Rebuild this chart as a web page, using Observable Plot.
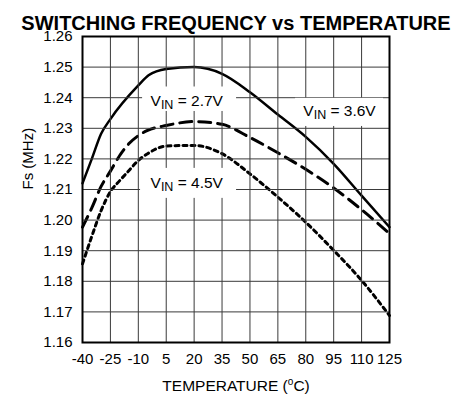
<!DOCTYPE html>
<html><head><meta charset="utf-8">
<script src="https://cdn.jsdelivr.net/npm/d3@7"></script>
<script src="https://cdn.jsdelivr.net/npm/@observablehq/plot@0.6"></script>
<style>body{margin:0}</style>
</head><body>
<div id="chart"></div>
<script>
// ---- data ----
const xTicks = [-40, -25, -10, 5, 20, 35, 50, 65, 80, 95, 110, 125];
const yTicks = [1.16, 1.17, 1.18, 1.19, 1.20, 1.21, 1.22, 1.23, 1.24, 1.25, 1.26];

const tempA = [-40, -35, -30, -25, -10, -4.5, 5, 20, 35, 50, 65, 80, 95, 110, 125];
const vin36 = [1.212, 1.220, 1.2282, 1.233, 1.244, 1.2473, 1.2494, 1.2500, 1.2478, 1.2418, 1.2345, 1.2272, 1.2184, 1.2080, 1.1977];

const tempB = [-40, -35, -30, -25, -20, -15, -10, -5, 5, 20, 35, 50, 65, 80, 95, 110, 125];
const vin27 = [1.1977, 1.204, 1.211, 1.216, 1.2211, 1.225, 1.2276, 1.2293, 1.2309, 1.2322, 1.2313, 1.2270, 1.2220, 1.2166, 1.2105, 1.2034, 1.1956];

const tempC = [-40, -35, -30, -25, -20, -15, -10, -5, 5, 20, 35, 50, 65, 80, 95, 110, 125];
const vin45 = [1.1857, 1.1947, 1.2031, 1.2093, 1.2129, 1.2162, 1.2195, 1.2217, 1.2242, 1.2244, 1.2217, 1.2151, 1.2075, 1.1993, 1.1901, 1.1803, 1.1688];

const labelVolt = ["= 2.7V", "= 3.6V", "= 4.5V"];
const labelT = [-3.4, 78.7, -3.4];
const labelV = [1.2389, 1.2357, 1.2122];
// white boxes behind labels (data units)
const boxT1 = [-7.7, 74.5, -8.8];
const boxT2 = [42.8, 121.8, 42.8];
const boxV1 = [1.2355, 1.2306, 1.2071];
const boxV2 = [1.2435, 1.2398, 1.2169];

const title = "SWITCHING FREQUENCY vs TEMPERATURE";
const xLabelParts = ["TEMPERATURE (", "o", "C)"];
const yLabel = "Fs (MHz)";

// ---- build tables ----
const s36 = tempA.map((t, i) => ({t, v: vin36[i]}));
const s27 = tempB.map((t, i) => ({t, v: vin27[i]}));
const s45 = tempC.map((t, i) => ({t, v: vin45[i]}));
const labels = labelVolt.map((s, i) => ({s, t: labelT[i], v: labelV[i]}));
const boxes = labelVolt.map((s, i) => ({t1: boxT1[i], t2: boxT2[i], v1: boxV1[i], v2: boxV2[i]}));

const chart = Plot.plot({
  width: 470,
  height: 403,
  marginTop: 36,
  marginBottom: 61,
  marginLeft: 82,
  marginRight: 81,
  style: {fontFamily: "'Liberation Sans', Arial, sans-serif", fontSize: "15px", color: "#000", background: "#fff"},
  x: {domain: [-40, 125]},
  y: {domain: [1.16, 1.26]},
  marks: [
    Plot.line(s36, {x: "t", y: "v", curve: "monotone-x", stroke: "black", strokeWidth: 2.5}),
    Plot.line(s27, {x: "t", y: "v", curve: "monotone-x", stroke: "black", strokeWidth: 3, strokeDasharray: "12,7"}),
    Plot.line(s45, {x: "t", y: "v", curve: "monotone-x", stroke: "black", strokeWidth: 3, strokeDasharray: "4,4"}),
    Plot.ruleX(xTicks, {x: d => d, stroke: "#3a3a3a", strokeWidth: 1}),
    Plot.ruleY(yTicks, {y: d => d, stroke: "#3a3a3a", strokeWidth: 1}),
    Plot.rect(boxes, {x1: "t1", x2: "t2", y1: "v1", y2: "v2", fill: "white"}),
    Plot.frame({stroke: "black", strokeWidth: 2}),
    Plot.axisX(xTicks, {tickSize: 0, tickPadding: 11, fontSize: 15, tickFormat: d => String(d), label: null}),
    Plot.axisY(yTicks, {tickSize: 0, tickPadding: 10, fontSize: 15, tickFormat: d => d.toFixed(2), label: null}),
    // VIN labels: V, subscript IN, value
    Plot.text(labels, {x: "t", y: "v", text: () => "V", textAnchor: "start", fontSize: 15.5, fill: "black"}),
    Plot.text(labels, {x: "t", y: "v", text: () => "IN", textAnchor: "start", dx: 10.3, dy: 4, fontSize: 12.5, fill: "black"}),
    Plot.text(labels, {x: "t", y: "v", text: "s", textAnchor: "start", dx: 27.1, fontSize: 15.5, fill: "black"}),
    // title
    Plot.text([title], {frameAnchor: "top", dy: -21, text: d => d, fontSize: 20, fontWeight: "bold", fill: "black"}),
    // x label with superscript o
    Plot.text([xLabelParts[0]], {frameAnchor: "bottom", dy: 48, dx: 51.8, textAnchor: "end", text: d => d, fontSize: 15.5, fill: "black"}),
    Plot.text([xLabelParts[1]], {frameAnchor: "bottom", dy: 42, dx: 51.8, textAnchor: "start", text: d => d, fontSize: 10, fill: "black"}),
    Plot.text([xLabelParts[2]], {frameAnchor: "bottom", dy: 48, dx: 57.4, textAnchor: "start", text: d => d, fontSize: 15.5, fill: "black"}),
    // y label
    Plot.text([yLabel], {frameAnchor: "left", dx: -54, rotate: -90, text: d => d, fontSize: 15, fill: "black"})
  ]
});
document.getElementById("chart").appendChild(chart);
</script>
</body></html>
